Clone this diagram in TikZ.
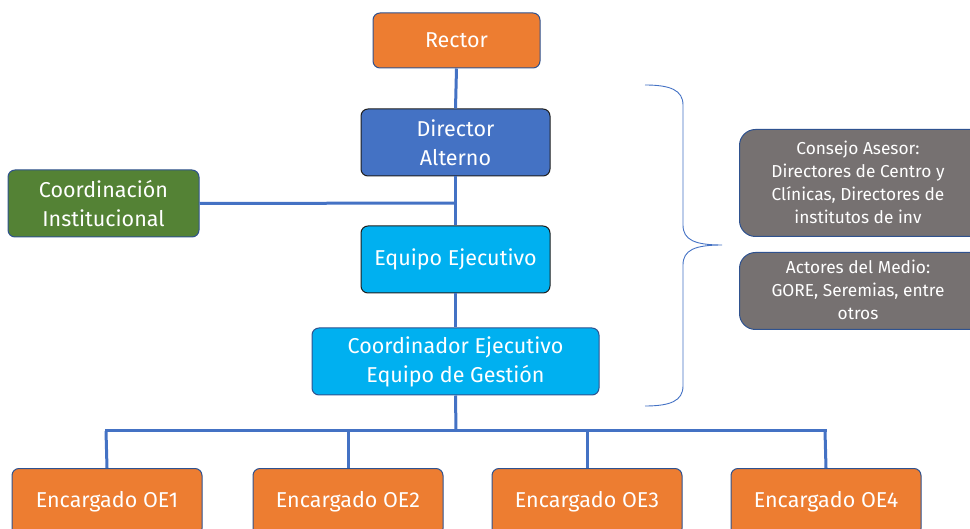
\documentclass[tikz,border=0pt]{standalone}
\usepackage{fontspec}
\setmainfont{Fira Sans}
\definecolor{corange}{HTML}{ED7D31}
\definecolor{cblue}{HTML}{4472C4}
\definecolor{cgreen}{HTML}{548235}
\definecolor{ccyan}{HTML}{00B0F0}
\definecolor{cgrey}{HTML}{767171}
\definecolor{cborder}{HTML}{2F528F}
\definecolor{cdark}{HTML}{1F1F1F}
\begin{document}
\begin{tikzpicture}[x=1pt,y=-1pt,
  box/.style={draw=cborder,line width=1pt,rounded corners=7pt,text=white,align=center,
    font=\fontsize{21.5}{29}\selectfont,inner sep=0pt},
  gbox/.style={box,rounded corners=16pt},
  gtext/.style={text=white,align=center,font=\fontsize{17.3}{23}\selectfont},
  conn/.style={draw=cblue,line width=3pt}]
\clip (0,0) rectangle (970,529);
\useasboundingbox (0,0) rectangle (970,529);
\coordinate (hl) at (106,431);
\coordinate (hr) at (825,431);
\coordinate (hm) at (456,431);
\coordinate (jn) at (456,203);
% nodes
\node[box,fill=corange,minimum width=167pt,minimum height=55pt] (rector) at (456.5,40.5) {Rector};
\node[box,fill=cblue,draw=cdark,minimum width=189pt,minimum height=67pt] (dir) at (455.5,142.5) {Director\\Alterno};
\node[box,fill=cgreen,minimum width=191pt,minimum height=67pt] (coord) at (103.5,203.5) {Coordinación\\Institucional};
\node[box,fill=ccyan,draw=cdark,minimum width=189pt,minimum height=67pt] (eq) at (455.5,259.5) {Equipo Ejecutivo};
\node[box,fill=ccyan,minimum width=287pt,minimum height=67pt] (ce) at (455.5,361.5) {Coordinador Ejecutivo\\Equipo de Gestión};
\node[box,fill=corange,minimum width=190pt,minimum height=67pt,anchor=north] (oe1) at (107,468) {Encargado OE1};
\node[box,fill=corange,minimum width=190pt,minimum height=67pt,anchor=north] (oe2) at (348,468) {Encargado OE2};
\node[box,fill=corange,minimum width=190pt,minimum height=67pt,anchor=north] (oe3) at (587,468) {Encargado OE3};
\node[box,fill=corange,minimum width=190pt,minimum height=67pt,anchor=north] (oe4) at (826,468) {Encargado OE4};
\node[gbox,fill=cgrey,minimum width=250pt,minimum height=107pt,anchor=north west] (ca) at (739,129) {};
\node[gtext] (catext) at (858,182) {Consejo Asesor:\\Directores de Centro y\\Clínicas, Directores de\\institutos de inv};
\node[gbox,fill=cgrey,minimum width=250pt,minimum height=77pt,anchor=north west] (am) at (739,252) {};
\node[gtext] (amtext) at (858,290) {Actores del Medio:\\GORE, Seremias, entre\\otros};
% connectors
\draw[conn] (rector.south) -- (dir.north);
\draw[conn] (dir.south) -- (eq.north);
\draw[conn] (coord.east) -- (jn);
\draw[conn] (eq.south) -- (ce.north);
\draw[conn] (ce.south) -- (hm);
\draw[conn,line cap=rect] (hl) -- (hr);
\draw[conn] (hl) -- (oe1.north);
\draw[conn] (oe2.north |- hl) -- (oe2.north);
\draw[conn] (oe3.north |- hl) -- (oe3.north);
\draw[conn] (hr) -- (oe4.north);
% brace
\coordinate (btop) at (645,85);
\coordinate (btip) at (722,245);
\coordinate (bbot) at (645,406);
\draw[cblue,line width=0.9pt] (btop) .. controls (670,85) and (683,90) .. (683,105)
  -- (683,225) .. controls (683,240) and (695,245) .. (btip)
  .. controls (695,245) and (683,250) .. (683,265)
  -- (683,386) .. controls (683,401) and (670,406) .. (bbot);
\end{tikzpicture}
\end{document}
